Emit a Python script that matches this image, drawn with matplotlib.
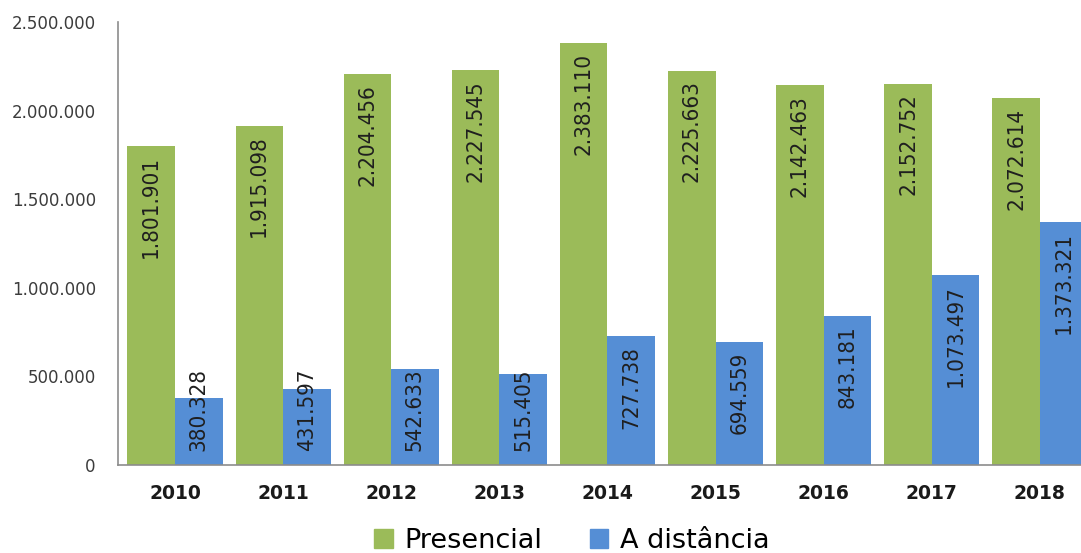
import matplotlib
matplotlib.use("Agg")
import matplotlib.pyplot as plt
import numpy as np
from matplotlib import font_manager
from matplotlib.patches import Patch

YEARS = ["2010", "2011", "2012", "2013", "2014", "2015", "2016", "2017", "2018"]
PRESENCIAL = [1801901, 1915098, 2204456, 2227545, 2383110, 2225663, 2142463, 2152752, 2072614]
DISTANCIA = [380328, 431597, 542633, 515405, 727738, 694559, 843181, 1073497, 1373321]
YTICKS = [0, 500000, 1000000, 1500000, 2000000, 2500000]

GREEN = "#9bbb59"
BLUE = "#558ed5"


def br(v):
    return f"{v:,}".replace(",", ".")


# narrow font for the bar labels if one is around, else plain Liberation Sans a bit smaller
have = {(f.name, f.stretch) for f in font_manager.fontManager.ttflist}
if any(n == "DejaVu Sans" and s == "condensed" for n, s in have):
    lab_font = dict(family="DejaVu Sans", fontstretch="condensed", fontsize=16)
else:
    lab_font = dict(family="Liberation Sans", fontsize=15.5)

fig = plt.figure(figsize=(10.81, 5.53), dpi=100)
ax = fig.add_axes([118 / 1081, 88 / 553, 1 - 118 / 1081, (465 - 22) / 553])

w = 0.44
x = np.arange(len(YEARS))
ax.bar(x - w / 2, PRESENCIAL, w, color=GREEN)
ax.bar(x + w / 2, DISTANCIA, w, color=BLUE)

ax.set_xlim(-0.527, 8.38)
ax.set_ylim(0, 2500000)
ax.set_yticks(YTICKS)
ax.set_yticklabels([br(v) for v in YTICKS], fontsize=12, color="#3c3c3c")
ax.set_xticks(x)
ax.set_xticklabels(YEARS, fontsize=13.5, fontweight="bold", color="#1a1a1a")
ax.tick_params(length=0)
ax.tick_params(axis="y", pad=16)
ax.tick_params(axis="x", pad=14)
for s in ("top", "right"):
    ax.spines[s].set_visible(False)
for s in ("left", "bottom"):
    ax.spines[s].set_color("#8c8c8c")
    ax.spines[s].set_linewidth(1.2)

renderer = fig.canvas.get_renderer()
pad_top, pad_base = 10, 14
for xs, vals in ((x - w / 2, PRESENCIAL), (x + w / 2, DISTANCIA)):
    for xi, v in zip(xs, vals):
        t = ax.annotate(br(v), (xi, v), xytext=(0, -pad_top), textcoords="offset pixels",
                        va="top", ha="center", rotation=90, color="#1f1f1f", **lab_font)
        ext = t.get_window_extent(renderer)
        base = ax.transData.transform((xi, 0))[1]
        if ext.y0 < base + pad_base:
            # too short for the label: sit it on the baseline like Excel does
            t.remove()
            ax.annotate(br(v), (xi, 0), xytext=(0, pad_base), textcoords="offset pixels",
                        va="bottom", ha="center", rotation=90, color="#1f1f1f", **lab_font)

fig.legend(handles=[Patch(color=GREEN, label="Presencial"), Patch(color=BLUE, label="A distância")],
           loc="center", bbox_to_anchor=(572 / 1081, 12 / 553), ncol=2, frameon=False,
           fontsize=19.5, handlelength=0.67, handleheight=0.67, handletextpad=0.44,
           columnspacing=1.75, borderpad=0)

fig.savefig("out.png", dpi=100)
